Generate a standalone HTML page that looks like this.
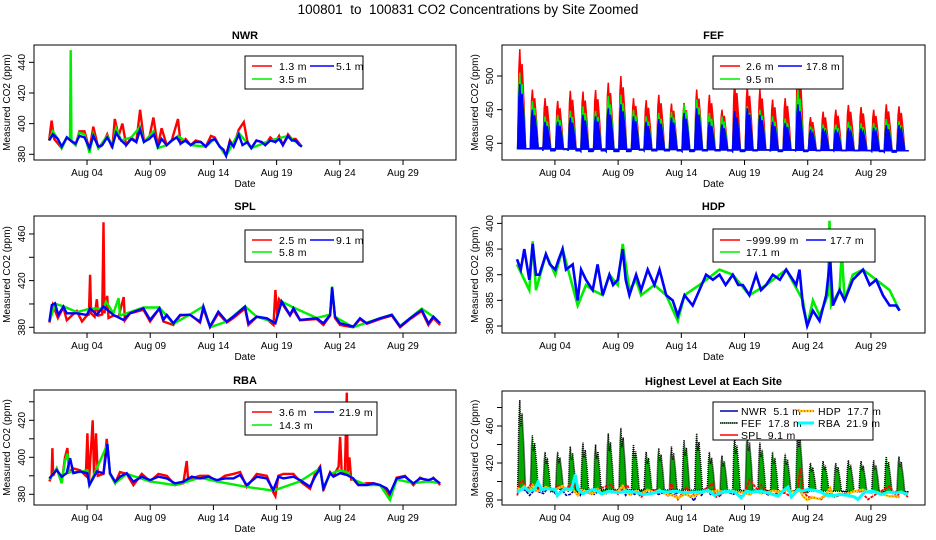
<!DOCTYPE html>
<html><head><meta charset="utf-8">
<style>
html,body{margin:0;padding:0;background:#fff;}
svg{display:block;font-family:"Liberation Sans",Arial,sans-serif;}
text{white-space:pre;}
</style></head>
<body>
<svg id="chart" width="936" height="540" viewBox="0 0 936 540" xmlns="http://www.w3.org/2000/svg">
<rect x="0" y="0" width="936" height="540" fill="#fff"/>
<text x="468" y="14" text-anchor="middle" font-size="13.5">100801  to  100831 CO2 Concentrations by Site Zoomed</text>
</svg>
<script>
// ---------- shared axis data ----------
const xTickDays = [3, 8, 13, 18, 23, 28];
const xTickLabels = ["Aug 04", "Aug 09", "Aug 14", "Aug 19", "Aug 24", "Aug 29"];

const nwrTicks = [380, 400, 420, 440];
const nwrLabels = [380, 400, 420, 440];
const fefTicks = [400, 450, 500];
const fefLabels = [400, 450, 500];
const splTicks = [380, 400, 420, 440, 460];
const splLabels = [380, 420, 460];
const hdpTicks = [380, 385, 390, 395, 400];
const hdpLabels = [380, 385, 390, 395, 400];
const rbaTicks = [380, 390, 400, 410, 420, 430];
const rbaLabels = [380, 400, 420];
const allTicks = [380, 400, 420, 440, 460, 480];
const allLabels = [380, 420, 460];

// ---------- NWR series [day, ppm] ----------
const nwr13 = [[0,389],[0.2,402],[0.4,390],[1.0,384],[1.4,391],[1.7,389],[2.1,386],[2.4,395],[2.8,395],[3.2,383],[3.5,398],[3.9,384],[4.2,386],[4.6,393],[5.0,384],[5.2,403],[5.5,392],[5.8,400],[6.1,386],[6.5,391],[6.9,388],[7.2,409],[7.5,389],[7.9,390],[8.25,404],[8.6,385],[8.9,397],[9.3,386],[9.7,389],[10.2,403],[10.4,387],[10.8,390],[11.2,386],[11.6,389],[12.0,388],[12.4,385],[12.8,392],[13.1,391],[13.5,385],[14.0,379],[14.3,389],[14.6,385],[15.0,396],[15.4,401],[15.7,388],[16.0,384],[16.4,389],[16.8,388],[17.1,386],[17.5,391],[17.9,388],[18.2,392],[18.5,386],[18.9,393],[19.2,390],[19.5,390],[20.0,385]];
const nwr35 = [[0,389],[0.3,395],[0.7,390],[1.0,384],[1.4,391],[1.65,390],[1.71,448],[1.77,389],[2.1,386],[2.4,394],[2.8,393],[3.2,381],[3.5,393],[3.9,384],[4.6,392],[5.0,385],[5.3,397],[5.7,389],[6.5,391],[7.2,398],[7.5,388],[8.25,395],[8.6,384],[9.3,386],[10.2,392],[11.2,386],[12.4,385],[13.1,390],[14.0,379],[15.0,394],[16.0,384],[17.5,389],[18.9,392],[20.0,385]];
const nwr51 = [[0,389],[0.3,393],[0.7,390],[1.0,385],[1.4,391],[1.7,389],[2.1,387],[2.4,392],[2.8,391],[3.2,384],[3.5,392],[3.9,385],[4.2,386],[4.6,391],[5.0,385],[5.3,394],[5.7,389],[6.1,386],[6.5,390],[6.9,388],[7.2,396],[7.5,388],[7.9,390],[8.3,393],[8.6,385],[8.9,390],[9.3,386],[9.7,389],[10.1,391],[10.4,387],[10.8,389],[11.2,386],[11.6,388],[12.0,388],[12.4,385],[12.8,389],[13.1,390],[13.5,385],[13.8,383],[14.0,379],[14.3,388],[14.6,385],[15.0,393],[15.3,386],[15.7,388],[16.0,384],[16.4,389],[16.8,388],[17.1,386],[17.5,389],[17.9,388],[18.2,390],[18.5,386],[18.9,392],[19.2,389],[19.5,389],[19.8,386],[20.0,385]];

// ---------- FEF daily cycle (day k) ----------
const fef26Peak = [540,480,467,463,478,477,479,490,500,467,464,472,459,460,480,472,450,490,485,480,465,467,529,439,447,450,457,454,450,458,455];
const fef95Peak = [505,463,440,442,448,455,448,470,472,450,440,445,447,458,465,445,440,448,455,450,440,437,480,425,428,428,432,430,430,436,433];
const fef178Peak = [488,450,432,432,438,442,440,452,458,440,432,436,438,445,452,432,428,448,452,442,432,430,458,420,422,420,423,422,423,427,427];
const fefLow = [392,393,389,391,389,388,389,388,388,390,389,389,389,388,389,389,389,388,389,390,388,390,388,389,390,389,389,389,388,387,389];

// ---------- SPL ----------
const spl25 = [[0.02,384],[0.3,399],[0.7,388],[1.13,397],[1.4,386],[2.19,394],[2.6,385],[2.98,390],[3.15,391],[3.24,425],[3.32,392],[3.6,389],[3.77,404],[3.9,390],[4.2,391],[4.3,470],[4.38,392],[4.6,407],[4.7,388],[5.09,390],[5.5,389],[5.9,406],[6.0,386],[6.4,392],[7.46,395],[7.99,385],[8.73,396],[9.04,385],[9.83,382],[10.36,390],[11.15,391],[11.94,384],[12.21,396],[12.73,380],[13.39,392],[14.05,384],[14.58,388],[15.5,396],[15.77,382],[16.43,389],[17.22,387],[17.75,382],[17.9,412],[18.05,390],[18.2,404],[18.4,401],[19.06,390],[19.33,395],[19.85,386],[21.17,387],[21.7,382],[22.23,390],[22.39,412],[22.62,388],[23.02,382],[24.07,380],[24.6,387],[25.13,383],[26.18,387],[27.11,390],[27.77,380],[28.56,387],[29.48,394],[30.01,382],[30.4,388],[30.93,382]];
const spl58 = [[0.02,385],[0.5,400],[1.13,398],[2.19,393],[3.24,396],[4.3,396],[4.5,402],[5.09,392],[5.5,405],[5.6,390],[6.4,393],[7.46,397],[8.73,397],[9.83,383],[11.15,391],[12.21,398],[12.73,380],[14.05,385],[15.5,398],[16.43,389],[17.9,384],[18.4,402],[19.33,397],[21.17,388],[22.23,391],[22.39,415],[22.62,389],[24.07,380],[25.13,384],[27.11,391],[27.77,381],[29.48,396],[30.4,389],[30.93,383]];
const spl91 = [[0.02,384.9],[0.21,399.1],[0.47,400.6],[0.73,390.6],[1.13,397.7],[1.39,392],[2.19,392],[2.98,390.6],[3.24,396.3],[3.77,390.6],[4.3,397.7],[5.09,390.6],[5.88,386.3],[6.4,392],[7.46,396.3],[7.99,386.3],[8.73,396.3],[9.04,386.3],[9.31,390.6],[9.83,383.4],[10.36,390.6],[11.15,390.6],[11.94,384.9],[12.21,397.7],[12.73,380.6],[13.39,393.4],[14.05,384.9],[14.58,389.1],[15.5,397.7],[15.77,383.4],[16.43,389.1],[17.22,387.7],[17.9,383.4],[18.4,402],[19.06,390.6],[19.33,396.3],[19.85,386.3],[21.17,387.7],[21.7,383.4],[22.23,390.6],[22.39,414.3],[22.62,389.1],[23.02,383.4],[24.07,380.6],[24.6,387.7],[25.13,383.4],[26.18,387.7],[27.11,390.6],[27.77,380.6],[28.56,387.7],[29.48,394.9],[30.01,383.4],[30.4,389.1],[30.93,383.4]];

// ---------- HDP ----------
const hdp171 = [[0,392],[0.97,387],[1.24,396.5],[1.5,387],[2.29,394],[3.03,390],[3.61,395],[4.8,384],[5.46,388],[5.99,387],[6.78,386],[7.31,390],[7.97,388],[8.36,396],[8.89,387],[9.42,389],[9.82,386],[10.87,388],[11.8,386],[12.72,381],[13.25,386],[14.43,388],[16.02,391],[17.07,390],[18.39,386],[19.71,388],[21.3,391],[22.62,385],[22.96,380],[23.41,385],[23.94,382],[24.6,386],[24.72,400.5],[24.85,384],[25.52,387],[25.7,394.5],[25.92,385],[26.57,390],[27.37,391],[28.42,389],[29.48,387],[30.27,383]];
const hdp177 = [[0,393],[0.3,391],[0.58,395],[0.97,389],[1.24,396],[1.5,390],[1.77,390],[2.29,394],[2.6,392],[3.03,391],[3.3,393],[3.61,395],[3.88,391],[4.41,392],[4.8,385],[5.07,391],[5.46,389],[5.99,387],[6.38,392],[6.78,386],[7.31,390],[7.6,388],[7.97,389],[8.36,395],[8.6,389],[8.89,386],[9.42,390],[9.82,387],[10.34,391],[10.87,388],[11.27,391],[11.8,386],[12.32,385],[12.72,382],[13.25,386],[13.9,384],[14.43,387],[14.96,390],[15.5,389],[16.02,390],[16.5,388],[17.07,390],[17.5,388],[17.87,388],[18.39,386],[18.92,390],[19.3,387],[19.71,388],[20.24,390],[20.8,389],[21.3,391],[22.09,388],[22.35,391],[22.62,384],[22.96,380],[23.41,383],[23.94,381],[24.46,386],[24.78,393],[24.99,384],[25.52,387],[25.92,385],[26.57,389],[27.37,391],[27.9,388],[28.42,389],[28.95,386],[29.48,384],[30.0,384],[30.27,383]];

// ---------- RBA ----------
const rba36 = [[0.02,387],[0.2,390],[0.26,405],[0.32,390],[0.6,394],[1.0,386],[1.26,400],[1.45,405],[1.6,392],[1.92,394],[2.45,393],[2.9,390],[3.03,413],[3.15,386],[3.45,420],[3.55,391],[3.71,413],[3.85,390],[4.3,391],[4.56,410],[4.82,391],[5.22,386],[5.61,392],[6.14,391],[6.67,385],[7.33,391],[7.99,387],[8.65,391],[9.31,390],[9.96,385],[10.62,386],[10.89,398],[11.0,388],[11.94,390],[12.6,390],[13.26,387],[13.92,390],[14.58,391],[15.11,392],[15.63,384],[16.43,391],[17.22,390],[17.74,381],[17.9,379],[18.14,390],[18.54,391],[19.33,391],[19.85,387],[20.65,383],[21.04,391],[21.44,395],[21.7,382],[22.23,392],[22.49,390],[22.9,395],[23.02,411],[23.15,392],[23.4,392],[23.55,435],[23.62,392],[23.76,400],[23.9,388],[24.07,388],[24.47,385],[25.13,386],[25.66,386],[26.18,385],[26.71,382],[26.97,379],[27.5,389],[28.16,390],[28.82,385],[29.35,389],[30.01,387],[30.4,389],[30.93,385]];
const rba143 = [[0.02,388],[0.6,394],[1.0,386],[1.26,398],[1.45,402],[1.6,392],[2.45,392],[3.03,393],[3.19,385],[3.77,394],[4.61,407],[4.82,391],[5.22,386],[6.14,391],[7.99,387],[9.96,385],[11.94,389],[13.26,387],[15.63,384],[17.74,382],[19.85,387],[21.44,394],[21.7,383],[22.23,391],[23.02,393],[23.55,392],[24.07,388],[25.13,385],[26.18,385],[26.97,377],[27.5,388],[28.82,386],[30.01,387],[30.93,386]];
const rba219 = [[0.02,388.6],[0.6,393.2],[1.0,389.5],[1.39,391.4],[1.66,399.5],[1.92,391.4],[2.45,392.3],[3.03,391.4],[3.19,385],[3.77,392.3],[4.3,391.4],[4.61,407.2],[4.82,391.4],[5.22,386.8],[5.61,389.5],[6.14,391.4],[6.67,386.8],[7.33,389.5],[7.99,387.7],[8.65,389.5],[9.31,388.6],[9.96,385.9],[10.62,386.8],[11.28,389.5],[11.94,388.6],[12.6,389.5],[13.26,387.7],[13.92,388.6],[14.58,388.6],[15.11,390.5],[15.63,385],[16.43,389.5],[17.22,388.6],[17.74,382.3],[18.14,389.5],[18.54,388.6],[19.33,389.5],[19.85,387.7],[20.65,384.1],[21.04,389.5],[21.44,394.1],[21.7,383.2],[22.23,391.4],[22.49,389.5],[23.02,391.4],[23.55,390.5],[24.07,388.6],[24.47,385],[25.13,385],[25.66,385.9],[26.18,385],[26.71,383.2],[26.97,380.5],[27.5,388.6],[28.16,389.5],[28.82,385.9],[29.35,388.6],[30.01,387.7],[30.4,388.6],[30.93,385.9]];

// ---------- rendering ----------
const NS = "http://www.w3.org/2000/svg";
const svg = document.getElementById("chart");
const PX_DAY = 12.64;

function mk(tag, attrs, parent) {
  const e = document.createElementNS(NS, tag);
  for (const k in attrs) e.setAttribute(k, attrs[k]);
  (parent || svg).appendChild(e);
  return e;
}

function makePanel(p) {
  const g = mk("g", {});
  
  
  p.g = g;
  p.sx = d => p.d0 + d * PX_DAY;
  p.sy = v => p.refY - (v - p.ref) * p.k;
  const clip = mk("clipPath", {id: "clip-" + p.key}, g);
  mk("rect", {x: p.x0, y: p.top, width: p.x1 - p.x0, height: p.bot - p.top}, clip);
  p.plot = mk("g", {"clip-path": "url(#clip-" + p.key + ")"}, g);
  
  
  const t = mk("text", {x: (p.x0 + p.x1) / 2, y: p.top - 6, "text-anchor": "middle", "font-size": 11, "font-weight": "bold"}, g);
  t.textContent = p.title;
  
  
  const ya = mk("g", {}, g);
  
  
  const yTop = p.sy(p.ticks[p.ticks.length - 1]), yBot = p.sy(p.ticks[0]);
  mk("line", {x1: p.x0, x2: p.x0, y1: yTop, y2: yBot, stroke: "#000"}, ya);
  p.ticks.forEach(v => {
    const y = p.sy(v);
    mk("line", {x1: p.x0 - 5, x2: p.x0, y1: y, y2: y, stroke: "#000"}, ya);
  });
  p.labels.forEach(v => {
    const y = p.sy(v);
    const lt = mk("text", {x: p.x0 - 9, y: y, "text-anchor": "middle", "font-size": 10, transform: "rotate(-90 " + (p.x0 - 9) + " " + y + ")"}, ya);
    lt.textContent = v;
    
    
  });
  const ytl = mk("text", {x: p.x0 - 24, y: (p.top + p.bot) / 2, "text-anchor": "middle", "font-size": 10, transform: "rotate(-90 " + (p.x0 - 24) + " " + ((p.top + p.bot) / 2) + ")"}, g);
  ytl.textContent = "Measured CO2 (ppm)";
  
  
  const xa = mk("g", {}, g);
  
  
  mk("line", {x1: p.sx(xTickDays[0]), x2: p.sx(xTickDays[xTickDays.length - 1]), y1: p.bot, y2: p.bot, stroke: "#000"}, xa);
  xTickDays.forEach((d, i) => {
    const x = p.sx(d);
    mk("line", {x1: x, x2: x, y1: p.bot, y2: p.bot + 5, stroke: "#000"}, xa);
    const lt = mk("text", {x: x, y: p.bot + 16, "text-anchor": "middle", "font-size": 10}, xa);
    lt.textContent = xTickLabels[i];
    
    
  });
  const xt = mk("text", {x: (p.x0 + p.x1) / 2, y: p.bot + 27, "text-anchor": "middle", "font-size": 10}, g);
  xt.textContent = "Date";
  
  
  return p;
}

function finishPanel(p) {
  const b = mk("rect", {x: p.x0, y: p.top, width: p.x1 - p.x0, height: p.bot - p.top, fill: "none", stroke: "#000"}, p.g);
  
  
}

function drawLine(p, data, color, width, name, dash) {
  const pts = data.map(d => p.sx(d[0]).toFixed(1) + "," + p.sy(d[1]).toFixed(1)).join(" ");
  const el = mk("polyline", {points: pts, fill: "none", stroke: color, "stroke-width": width, "stroke-linejoin": "miter"}, p.plot);
  if (dash) el.setAttribute("stroke-dasharray", dash);
  
  
  return el;
}

function drawCycle(p, peaks, lows, fill, name, stroke, dash) {
  let pts = [];
  peaks.forEach((v, k) => {
    pts.push([k + 0.05, lows[k]]);
    pts.push([k + 0.15, v - (v - lows[k]) * 0.2]);
    pts.push([k + 0.22, v]);
    pts.push([k + 0.3, lows[k] + (v - lows[k]) * 0.7]);
    pts.push([k + 0.4, v - (v - lows[k]) * 0.15]);
    pts.push([k + 0.55, lows[k] + (v - lows[k]) * 0.45]);
    pts.push([k + 0.68, lows[k]]);
    pts.push([k + 1.0, lows[k]]);
  });
  const s = pts.map(d => p.sx(d[0]).toFixed(1) + "," + p.sy(d[1]).toFixed(1)).join(" ");
  const el = mk("polygon", {points: s + " " + p.sx(peaks.length).toFixed(1) + "," + p.sy(lows[lows.length - 1]).toFixed(1), fill: fill, stroke: stroke || fill, "stroke-width": 1.5}, p.plot);
  if (dash) el.setAttribute("stroke-dasharray", dash);
  
  
}

function legend(p, box, entries) {
  const g = mk("g", {}, p.g);
  
  
  mk("rect", {x: box.x, y: box.y, width: box.w, height: box.h, fill: "#fff", stroke: "#000"}, g);
  entries.forEach(e => {
    const eg = mk("g", {}, g);
    
    
    mk("line", {x1: e.lx1, x2: e.lx2, y1: e.y, y2: e.y, stroke: e.color, "stroke-width": e.w || 1.5}, eg);
    if (e.dash) mk("line", {x1: e.lx1, x2: e.lx2, y1: e.y, y2: e.y, stroke: e.dashColor, "stroke-width": 1.2, "stroke-dasharray": e.dash}, eg);
    const t = mk("text", {x: e.tx, y: e.y + 4, "font-size": 10.5, "letter-spacing": "0.3"}, eg);
    t.textContent = e.label;
  });
}

const L = {x0: 34, x1: 456, d0: 49.1};
const R = {x0: 502, x1: 925, d0: 517};

const pN = makePanel(Object.assign({key: "nwr", title: "NWR", top: 45, bot: 160, ref: 380, refY: 154.3, k: 1.533, ticks: nwrTicks, labels: nwrLabels}, L));
drawLine(pN, nwr13, "#ff0000", 2.4, "nwr-1.3m-line");
drawLine(pN, nwr35, "#00ee00", 2.4, "nwr-3.5m-line");
drawLine(pN, nwr51, "#0000ff", 2.4, "nwr-5.1m-line");
finishPanel(pN);
legend(pN, {x: 245, y: 56, w: 118, h: 33}, [
  {lx1: 252, lx2: 272, y: 66, color: "#ff0000", tx: 279, label: "1.3 m"},
  {lx1: 310, lx2: 334, y: 66, color: "#0000ff", tx: 336, label: "5.1 m"},
  {lx1: 252, lx2: 272, y: 79, color: "#00ee00", tx: 279, label: "3.5 m"}]);

const pF = makePanel(Object.assign({key: "fef", title: "FEF", top: 45, bot: 160, ref: 400, refY: 143.3, k: 0.673, ticks: fefTicks, labels: fefLabels}, R));
drawCycle(pF, fef26Peak, fefLow, "#ff0000", "fef-2.6m-series");
drawCycle(pF, fef95Peak, fefLow, "#00ee00", "fef-9.5m-series");
drawCycle(pF, fef178Peak, fefLow, "#0000ff", "fef-17.8m-series");
finishPanel(pF);
legend(pF, {x: 713, y: 56, w: 130, h: 33}, [
  {lx1: 720, lx2: 740, y: 66, color: "#ff0000", tx: 746, label: "2.6 m"},
  {lx1: 778, lx2: 802, y: 66, color: "#0000ff", tx: 806, label: "17.8 m"},
  {lx1: 720, lx2: 740, y: 79, color: "#00ee00", tx: 746, label: "9.5 m"}]);

const pS = makePanel(Object.assign({key: "spl", title: "SPL", top: 216, bot: 333, ref: 380, refY: 327.3, k: 1.167, ticks: splTicks, labels: splLabels}, L));
drawLine(pS, spl25, "#ff0000", 2.4, "spl-2.5m-line");
drawLine(pS, spl58, "#00ee00", 2.4, "spl-5.8m-line");
drawLine(pS, spl91, "#0000ff", 2.4, "spl-9.1m-line");
finishPanel(pS);
legend(pS, {x: 245, y: 230, w: 118, h: 32}, [
  {lx1: 252, lx2: 272, y: 240, color: "#ff0000", tx: 279, label: "2.5 m"},
  {lx1: 310, lx2: 334, y: 240, color: "#0000ff", tx: 336, label: "9.1 m"},
  {lx1: 252, lx2: 272, y: 252, color: "#00ee00", tx: 279, label: "5.8 m"}]);

const pH = makePanel(Object.assign({key: "hdp", title: "HDP", top: 216, bot: 333, ref: 380, refY: 326, k: 5.13, ticks: hdpTicks, labels: hdpLabels}, R));
drawLine(pH, hdp171, "#00ee00", 2.6, "hdp-17.1m-line");
drawLine(pH, hdp177, "#0000ff", 2.6, "hdp-17.7m-line");
finishPanel(pH);
legend(pH, {x: 713, y: 229, w: 162, h: 33}, [
  {lx1: 720, lx2: 740, y: 240, color: "#ff0000", tx: 746, label: "\u2212999.99 m"},
  {lx1: 806, lx2: 826, y: 240, color: "#0000ff", tx: 830, label: "17.7 m"},
  {lx1: 720, lx2: 740, y: 252, color: "#00ee00", tx: 746, label: "17.1 m"}]);

const pR = makePanel(Object.assign({key: "rba", title: "RBA", top: 390, bot: 505, ref: 380, refY: 494.3, k: 1.85, ticks: rbaTicks, labels: rbaLabels}, L));
drawLine(pR, rba36, "#ff0000", 2.4, "rba-3.6m-line");
drawLine(pR, rba143, "#00ee00", 2.4, "rba-14.3m-line");
drawLine(pR, rba219, "#0000ff", 2.4, "rba-21.9m-line");
finishPanel(pR);
legend(pR, {x: 245, y: 402, w: 132, h: 33}, [
  {lx1: 252, lx2: 272, y: 412, color: "#ff0000", tx: 279, label: "3.6 m"},
  {lx1: 314, lx2: 334, y: 412, color: "#0000ff", tx: 339, label: "21.9 m"},
  {lx1: 252, lx2: 272, y: 425, color: "#00ee00", tx: 279, label: "14.3 m"}]);

const pA = makePanel(Object.assign({key: "highest", title: "Highest Level at Each Site", top: 391, bot: 505, ref: 380, refY: 500, k: 0.925, ticks: allTicks, labels: allLabels}, R));
drawLine(pA, nwr51, "#0000aa", 1.6, "highest-nwr-line", "3,1");
drawCycle(pA, fef178Peak, fefLow, "#00aa00", "highest-fef-series", "#000", "1,1");
drawLine(pA, spl91, "#ff0000", 1.8, "highest-spl-line", "3,1");
drawLine(pA, hdp177, "#ffcc00", 2.4, "highest-hdp-line");
drawLine(pA, hdp177, "#ff3300", 1, "highest-hdp-dots", "1,2");
drawLine(pA, rba219, "#00ffff", 3, "highest-rba-line");
finishPanel(pA);
legend(pA, {x: 713, y: 402, w: 160, h: 38}, [
  {lx1: 720, lx2: 738, y: 411, color: "#0000aa", tx: 741, label: "NWR  5.1 m"},
  {lx1: 720, lx2: 738, y: 423, color: "#00aa00", dash: "1,1", dashColor: "#000", tx: 741, label: "FEF  17.8 m"},
  {lx1: 720, lx2: 738, y: 435, color: "#ff0000", tx: 741, label: "SPL  9.1 m"},
  {lx1: 798, lx2: 814, y: 411, color: "#ffcc00", w: 2.4, dash: "1,2", dashColor: "#ff3300", tx: 818, label: "HDP  17.7 m"},
  {lx1: 798, lx2: 814, y: 423, color: "#00ffff", w: 3, tx: 818, label: "RBA  21.9 m"}]);
</script>
</body></html>
